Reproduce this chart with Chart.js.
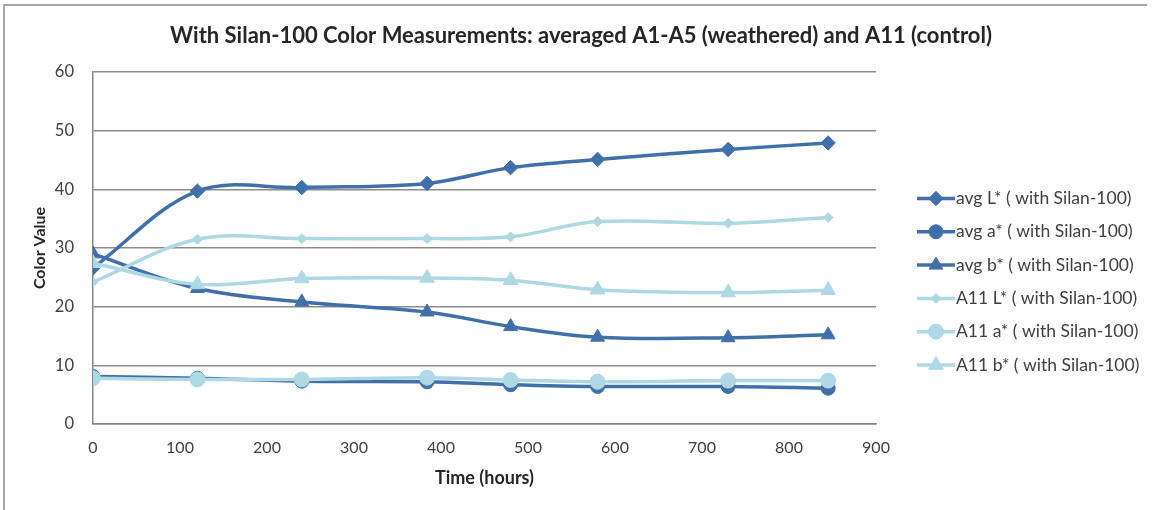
<!DOCTYPE html>
<html>
<head>
<meta charset="utf-8">
<script src="https://cdn.jsdelivr.net/npm/chart.js@4.4.1/dist/chart.umd.min.js"></script>
<style>
  html, body { margin: 0; padding: 0; background: #fff; }
  #wrap { position: relative; width: 1155px; height: 510px; overflow: hidden; }
  #frame { position: absolute; left: 3px; top: 4px; width: 1142px; height: 520px;
           border-top: 2px solid #a6a6a6; border-left: 2px solid #a6a6a6; pointer-events: none; }
  canvas { display: block; }
</style>
</head>
<body>
<div id="wrap">
  <canvas id="c" width="1155" height="510"></canvas>
  <div id="frame"></div>
</div>
<script>
// ---- data ----
const hours = [0, 120, 240, 384, 480, 580, 730, 845];
const avgL = [26.6, 39.7, 40.3, 41.0, 43.7, 45.1, 46.8, 47.9];
const avgA = [8.1, 7.8, 7.3, 7.2, 6.7, 6.4, 6.4, 6.1];
const avgB = [29.0, 23.1, 20.8, 19.1, 16.6, 14.8, 14.7, 15.2];
const a11L = [24.2, 31.5, 31.6, 31.6, 31.9, 34.5, 34.2, 35.2];
const a11A = [7.8, 7.6, 7.6, 7.9, 7.5, 7.2, 7.4, 7.4];
const a11B = [27.4, 23.8, 24.8, 24.9, 24.5, 22.9, 22.4, 22.8];
const seriesNames = [
  'avg L* ( with Silan-100)', 'avg a* ( with Silan-100)', 'avg b* ( with Silan-100)',
  'A11 L* ( with Silan-100)', 'A11 a* ( with Silan-100)', 'A11 b* ( with Silan-100)'
];
const xTicks = [0, 100, 200, 300, 400, 500, 600, 700, 800, 900];
const yTicks = [0, 10, 20, 30, 40, 50, 60];
const chartTitle = 'With Silan-100 Color Measurements: averaged A1-A5 (weathered) and A11 (control)';

const DARK = '#4070aa';
const LIGHT = '#add8e4';
const FONT = 'Lato, "Open Sans", sans-serif';

function pts(vals) { return hours.map((h, i) => ({ x: h, y: vals[i] })); }

function ds(label, vals, color, style, radius, order) {
  return {
    label, data: pts(vals), borderColor: color, backgroundColor: color,
    pointBackgroundColor: color, pointBorderColor: color,
    pointStyle: style, pointRadius: radius, pointHoverRadius: radius,
    pointBorderWidth: 1, borderWidth: 3.5, tension: 0.35, order
  };
}

const datasets = [
  ds(seriesNames[0], avgL, DARK, 'rectRot', 7.2, 1),
  ds(seriesNames[1], avgA, DARK, 'circle', 7, 1),
  ds(seriesNames[2], avgB, DARK, 'triangle', 8, 1),
  ds(seriesNames[3], a11L, LIGHT, 'rectRot', 5, 0),
  ds(seriesNames[4], a11A, LIGHT, 'circle', 7.5, 0),
  ds(seriesNames[5], a11B, LIGHT, 'triangle', 8.5, 0)
];

const decorPlugin = {
  id: 'decor',
  afterDraw(chart) {
    const ctx = chart.ctx;
    ctx.save();
    // title
    ctx.fillStyle = '#262626';
    ctx.font = 'bold 22px ' + FONT;
    ctx.textAlign = 'center';
    ctx.textBaseline = 'middle';
    ctx.fillText(chartTitle, 581, 36);
    // legend
    const x0 = 917, x1 = 955, y0 = 198.5, dy = 33.3;
    chart.data.datasets.forEach((d, i) => {
      const y = y0 + i * dy;
      ctx.strokeStyle = d.borderColor;
      ctx.fillStyle = d.backgroundColor;
      ctx.lineWidth = d.borderWidth;
      ctx.beginPath(); ctx.moveTo(x0, y); ctx.lineTo(x1, y); ctx.stroke();
      ctx.lineWidth = 1;
      Chart.helpers.drawPoint(ctx, { pointStyle: d.pointStyle, rotation: 0,
        radius: d.pointRadius, borderWidth: 1 }, (x0 + x1) / 2, y);
      ctx.fillStyle = '#404040';
      ctx.font = '17.5px ' + FONT;
      ctx.textAlign = 'left';
      ctx.textBaseline = 'middle';
      ctx.fillText(d.label, x1 + 1, y);
    });
    ctx.restore();
  }
};

new Chart(document.getElementById('c'), {
  type: 'line',
  data: { datasets },
  plugins: [decorPlugin],
  options: {
    responsive: false,
    animation: false,
    layout: { padding: { left: 10, right: 279, top: 72, bottom: 6 } },
    plugins: {
      legend: { display: false },
      tooltip: { enabled: false },
      title: { display: false }
    },
    scales: {
      x: {
        type: 'linear', min: 0, max: 900,
        afterBuildTicks: s => { s.ticks = xTicks.map(v => ({ value: v })); },
        afterFit: s => { s.height = 80; },
        grid: { display: false, drawTicks: false },
        border: { display: true, color: '#868686', width: 1.5 },
        ticks: { color: '#404040', padding: 14, font: { family: FONT, size: 16 } },
        title: { display: true, text: 'Time (hours)', color: '#262626',
                 font: { family: FONT, size: 18, weight: 'bold' }, padding: { top: 0, bottom: 15.2 } }
      },
      y: {
        min: 0, max: 60,
        afterBuildTicks: s => { s.ticks = yTicks.map(v => ({ value: v })); },
        afterFit: s => { s.width = 83; },
        grid: { color: '#8c8c8c', lineWidth: 1.5, drawTicks: false },
        border: { display: true, color: '#868686', width: 1.5 },
        ticks: { color: '#404040', padding: 19, font: { family: FONT, size: 16.5 } },
        title: { display: true, text: 'Color Value', color: '#262626',
                 font: { family: FONT, size: 16, weight: 'bold' }, padding: { top: 20, bottom: 0 } }
      }
    }
  }
});
</script>
</body>
</html>
